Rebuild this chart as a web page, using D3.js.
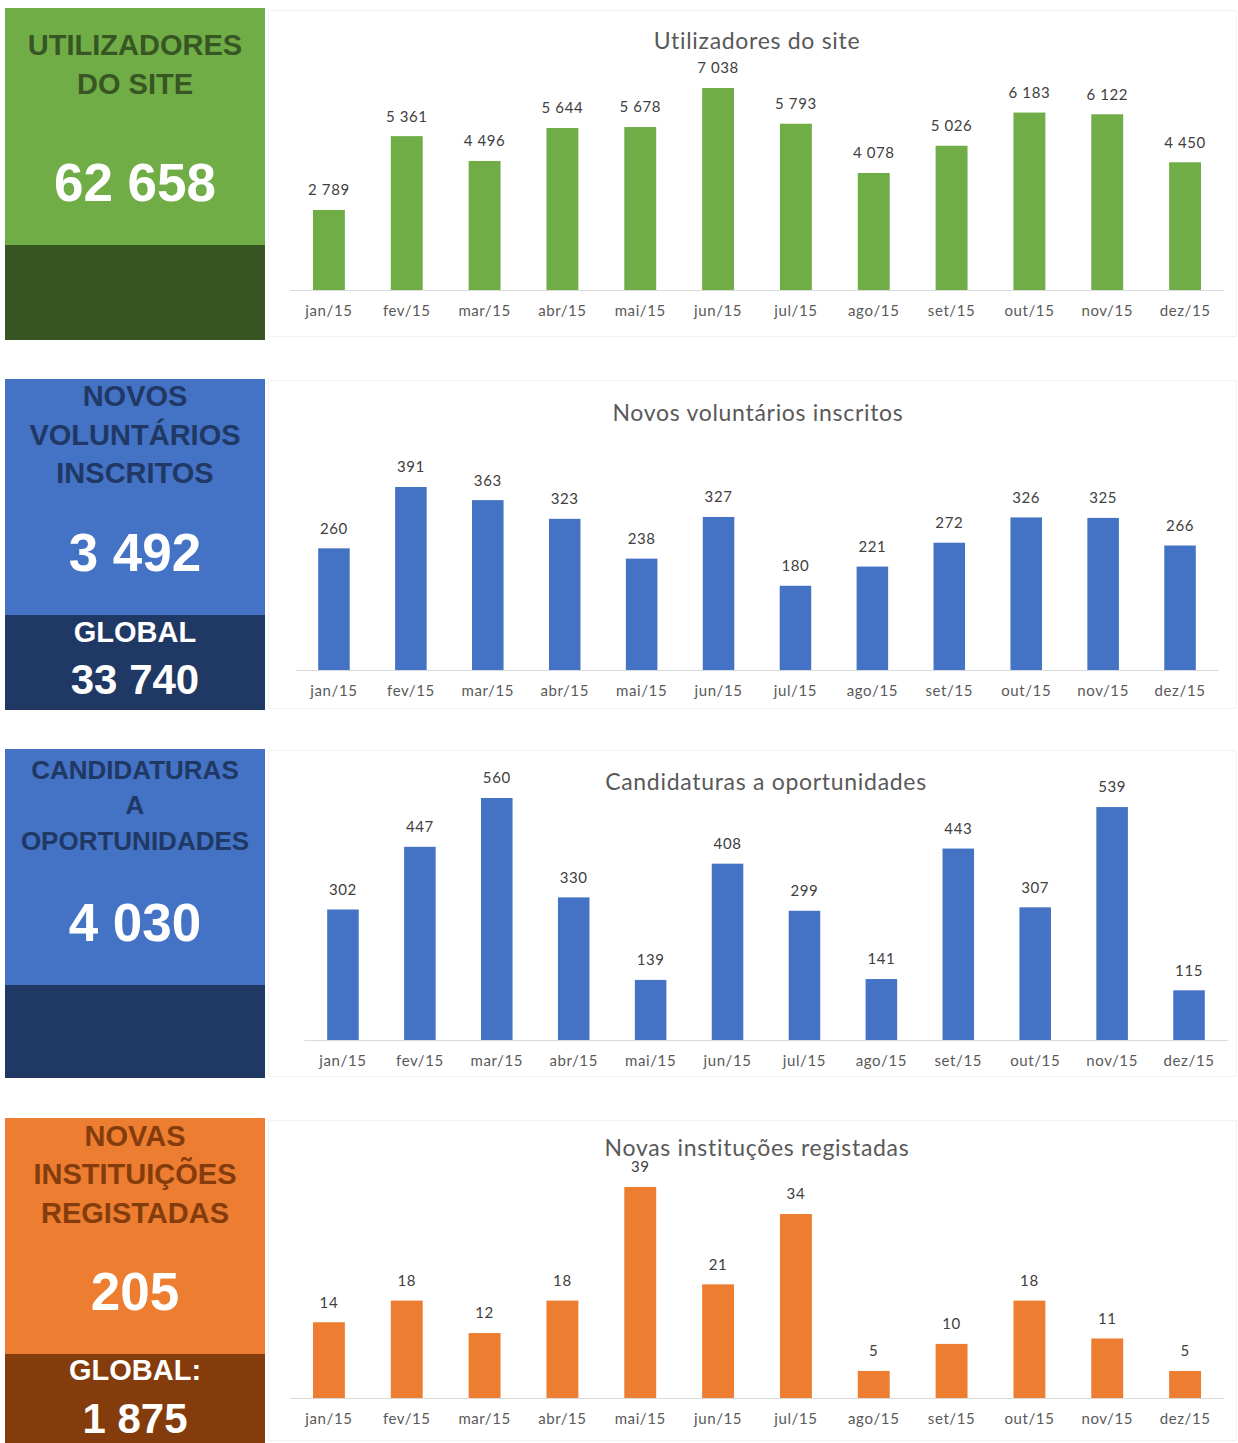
<!DOCTYPE html>
<html>
<head>
  <meta charset="utf-8" />
  <title>Resumo 2015</title>
  <script src="https://cdnjs.cloudflare.com/ajax/libs/d3/7.8.5/d3.min.js"></script>
  <style>
    body { margin: 0; background: #fff; }
    .box text { font-family: "Liberation Sans", Arial, sans-serif; font-weight: bold; text-anchor: middle; }
    .chart text { font-family: Lato, "Open Sans", sans-serif; fill: #595959; text-anchor: middle; }
  </style>
</head>
<body>
  <svg width="1238" height="1443"></svg>
  <script>
    // data
    var months = ["jan/15", "fev/15", "mar/15", "abr/15", "mai/15", "jun/15",
                  "jul/15", "ago/15", "set/15", "out/15", "nov/15", "dez/15"];
    var utilizadores = [2789, 5361, 4496, 5644, 5678, 7038, 5793, 4078, 5026, 6183, 6122, 4450];
    var voluntarios  = [260, 391, 363, 323, 238, 327, 180, 221, 272, 326, 325, 266];
    var candidaturas = [302, 447, 560, 330, 139, 408, 299, 141, 443, 307, 539, 115];
    var instituicoes = [14, 18, 12, 18, 39, 21, 34, 5, 10, 18, 11, 5];

    var chartTitles = ["Utilizadores do site", "Novos voluntários inscritos",
                       "Candidaturas a oportunidades", "Novas instituções registadas"];
    var boxTitles = [["UTILIZADORES", "DO SITE"],
                     ["NOVOS", "VOLUNTÁRIOS", "INSCRITOS"],
                     ["CANDIDATURAS", "A", "OPORTUNIDADES"],
                     ["NOVAS", "INSTITUIÇÕES", "REGISTADAS"]];
    var totals  = [62658, 3492, 4030, 205];
    var globals = [null, 33740, null, 1875];
    var globalLabels = [null, "GLOBAL", null, "GLOBAL:"];

    // portuguese style thousands: "5 361"
    var fmt = d3.formatLocale({decimal: ",", thousands: " ", grouping: [3], currency: ["", " €"]}).format(",d");

    // layout for each of the four rows
    var panels = [
      {values: utilizadores, top: 8,    split: 245,  bottom: 340,  light: "#70AD47", dark: "#375623", head: "#375623",
       fs: 29, lineY: [45, 84], totalY: 182, globalY: null,
       frame: [10, 336], titleX: 757, titleY: 41, x: [290, 1224], base: 290, max: 8000, topY: 60.4},
      {values: voluntarios,  top: 379,  split: 615,  bottom: 710,  light: "#4472C4", dark: "#203864", head: "#203864",
       fs: 29, lineY: [396, 435, 473], totalY: 552, globalY: [632, 679],
       frame: [380, 708], titleX: 758, titleY: 413, x: [295.5, 1218.5], base: 670, max: 450, topY: 459.4},
      {values: candidaturas, top: 749,  split: 985,  bottom: 1078, light: "#4472C4", dark: "#203864", head: "#203864",
       fs: 26, lineY: [770, 805, 841], totalY: 922, globalY: null,
       frame: [750, 1076], titleX: 766, titleY: 782, x: [304.5, 1227.5], base: 1040, max: 600, topY: 780.7},
      {values: instituicoes, top: 1118, split: 1354, bottom: 1443, light: "#ED7D31", dark: "#843C0C", head: "#843C0C",
       fs: 29, lineY: [1136, 1174, 1213], totalY: 1291, globalY: [1370, 1418],
       frame: [1120, 1440], titleX: 757, titleY: 1148, x: [290, 1224], base: 1398, max: 45, topY: 1154.5}
    ];

    var svg = d3.select("svg");

    panels.forEach(function(p, i) {
      // left coloured box
      var box = svg.append("g").attr("class", "box");
      box.append("rect").attr("x", 5).attr("y", p.top).attr("width", 260).attr("height", p.split - p.top).attr("fill", p.light);
      box.append("rect").attr("x", 5).attr("y", p.split).attr("width", 260).attr("height", p.bottom - p.split).attr("fill", p.dark);

      box.selectAll("text.head")
        .data(boxTitles[i])
        .enter().append("text")
          .attr("class", "head")
          .attr("x", 135)
          .attr("y", (d, j) => p.lineY[j])
          .attr("dy", "0.36em")
          .style("font-size", p.fs + "px")
          .style("fill", p.head)
          .text(d => d);

      box.append("text")
        .attr("x", 135).attr("y", p.totalY).attr("dy", "0.36em")
        .style("font-size", "53px").style("fill", "#fff")
        .text(fmt(totals[i]));

      if (globals[i] != null) {
        box.append("text")
          .attr("x", 135).attr("y", p.globalY[0]).attr("dy", "0.36em")
          .style("font-size", "29px").style("fill", "#fff")
          .text(globalLabels[i]);
        box.append("text")
          .attr("x", 135).attr("y", p.globalY[1]).attr("dy", "0.36em")
          .style("font-size", "42px").style("fill", "#fff")
          .text(fmt(globals[i]));
      }

      // bar chart on the right
      var chart = svg.append("g").attr("class", "chart");
      chart.append("rect")
        .attr("x", 268.5).attr("y", p.frame[0] + 0.5)
        .attr("width", 968).attr("height", p.frame[1] - p.frame[0])
        .attr("fill", "#fff").attr("stroke", "#f2f2f2");

      var x = d3.scaleBand().domain(months).range(p.x).paddingInner(0.59).paddingOuter(0.295);
      var y = d3.scaleLinear().domain([0, p.max]).range([p.base, p.topY]);

      chart.append("text")
        .attr("x", p.titleX).attr("y", p.titleY).attr("dy", "0.36em")
        .style("font-size", "23px")
        .style("letter-spacing", "0.7px")
        .text(chartTitles[i]);

      chart.append("line")
        .attr("x1", p.x[0]).attr("x2", p.x[1])
        .attr("y1", p.base + 0.5).attr("y2", p.base + 0.5)
        .attr("stroke", "#d9d9d9");

      var rows = months.map((m, j) => ({month: m, value: p.values[j]}));

      chart.selectAll("rect.bar")
        .data(rows)
        .enter().append("rect")
          .attr("class", "bar")
          .attr("x", d => x(d.month))
          .attr("width", x.bandwidth())
          .attr("y", d => y(d.value))
          .attr("height", d => p.base - y(d.value))
          .attr("fill", p.light);

      chart.selectAll("text.val")
        .data(rows)
        .enter().append("text")
          .attr("class", "val")
          .attr("x", d => x(d.month) + x.bandwidth() / 2)
          .attr("y", d => y(d.value) - 20)
          .attr("dy", "0.36em")
          .style("font-size", "15px")
          .style("letter-spacing", "0.6px")
          .style("fill", "#404040")
          .text(d => fmt(d.value));

      var axis = d3.axisBottom(x).tickSize(0).tickPadding(15);
      var ax = chart.append("g")
        .attr("transform", "translate(0," + p.base + ")")
        .call(axis);
      ax.select(".domain").remove();
      ax.selectAll("text")
        .style("font-size", "15px")
        .style("letter-spacing", "0.6px")
        .style("font-family", "Lato, 'Open Sans', sans-serif")
        .style("fill", "#595959");
    });
  </script>
</body>
</html>
